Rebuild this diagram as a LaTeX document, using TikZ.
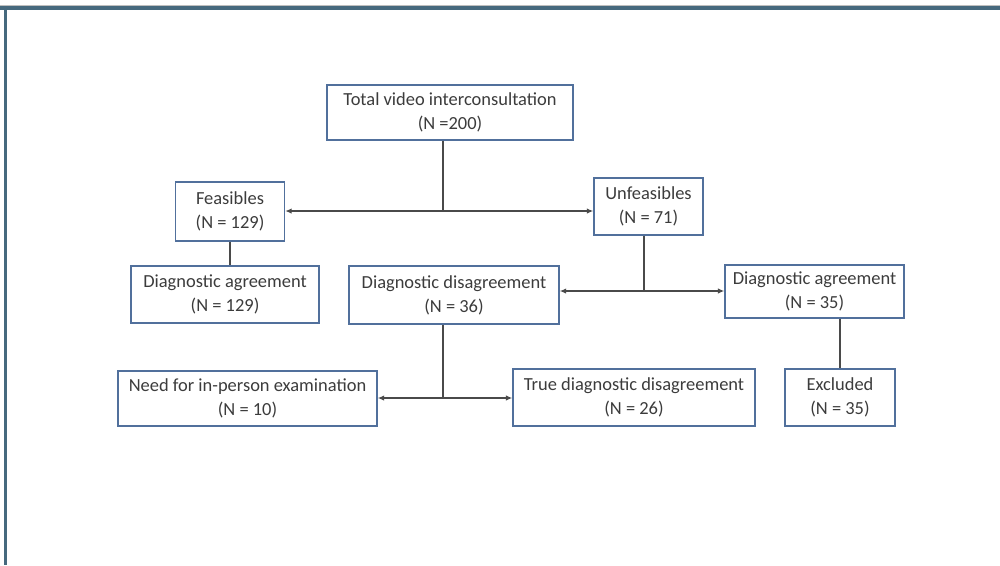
\documentclass[tikz,border=0pt]{standalone}
\usepackage{fontspec}
\setmainfont{Carlito}
\usetikzlibrary{arrows.meta}
\definecolor{framecol}{HTML}{46697E}
\definecolor{boxcol}{HTML}{51709C}
\definecolor{linecol}{HTML}{4A4A4A}
\definecolor{txtcol}{HTML}{3C3C3C}
\tikzset{
	flowbox/.style={draw=boxcol, line width=0.8pt, fill=white, text=txtcol, align=center, inner sep=0pt, font=\fontsize{10.5}{13.7}\selectfont},
	link/.style={draw=linecol, line width=0.8pt},
	twoway/.style={link, {Latex[length=1.3mm,width=1.1mm]}-{Latex[length=1.3mm,width=1.1mm]}},
}

\begin{document}
\begin{tikzpicture}[x=0.02cm, y=-0.02cm]
		%%%%% START %%%%%
		
		\useasboundingbox (0, 0) rectangle (1000, 565);
		\draw[black!25, line width=0.4pt] (0, 5) -- (1000, 5);
		\fill[framecol] (0, 6) rectangle (1000, 9.5);
		\fill[framecol] (4, 6) rectangle (7, 565);
		
		\node[flowbox, minimum width=4.92cm, minimum height=1.1cm] (total) at (450, 112.5) {Total video interconsultation\\(N =200)};
		
		\node[flowbox, minimum width=2.18cm, minimum height=1.18cm] (feas) at (230, 211.5) {Feasibles\\(N = 129)};
		\node[flowbox, minimum width=2.18cm, minimum height=1.14cm] (unfeas) at (648.5, 206.5) {Unfeasibles\\(N = 71)};
		
		\node[flowbox, minimum width=3.76cm, minimum height=1.14cm] (agreeA) at (225, 294.5) {Diagnostic agreement\\(N = 129)};
		\node[flowbox, minimum width=4.2cm, minimum height=1.16cm] (disagree) at (454, 295) {Diagnostic disagreement\\(N = 36)};
		\node[flowbox, minimum width=3.58cm, minimum height=1.06cm] (agreeB) at (814.5, 291.5) {Diagnostic agreement\\(N = 35)};
		
		\node[flowbox, minimum width=5.18cm, minimum height=1.1cm] (need) at (247.5, 398.5) {Need for in-person examination\\(N = 10)};
		\node[flowbox, minimum width=4.84cm, minimum height=1.14cm] (true) at (634, 397.5) {True diagnostic disagreement\\(N = 26)};
		\node[flowbox, minimum width=2.2cm, minimum height=1.14cm] (excl) at (840, 397.5) {Excluded\\(N = 35)};
		
		\coordinate (j1) at (443, 211);
		\draw[link] (total.south -| j1) -- (j1);
		\draw[twoway] (feas.east |- j1) -- (unfeas.west |- j1);
		
		\draw[link] (feas.south) -- (feas.south |- agreeA.north);
		
		\coordinate (j2) at (644, 291);
		\draw[link] (unfeas.south -| j2) -- (j2);
		\draw[twoway] (disagree.east |- j2) -- (agreeB.west |- j2);
		
		\coordinate (j3) at (443, 398);
		\draw[link] (disagree.south -| j3) -- (j3);
		\draw[twoway] (need.east |- j3) -- (true.west |- j3);
		
		\draw[link] (agreeB.south -| excl.north) -- (excl.north);
		
		%%%%% END %%%%%
\end{tikzpicture}
\end{document}
